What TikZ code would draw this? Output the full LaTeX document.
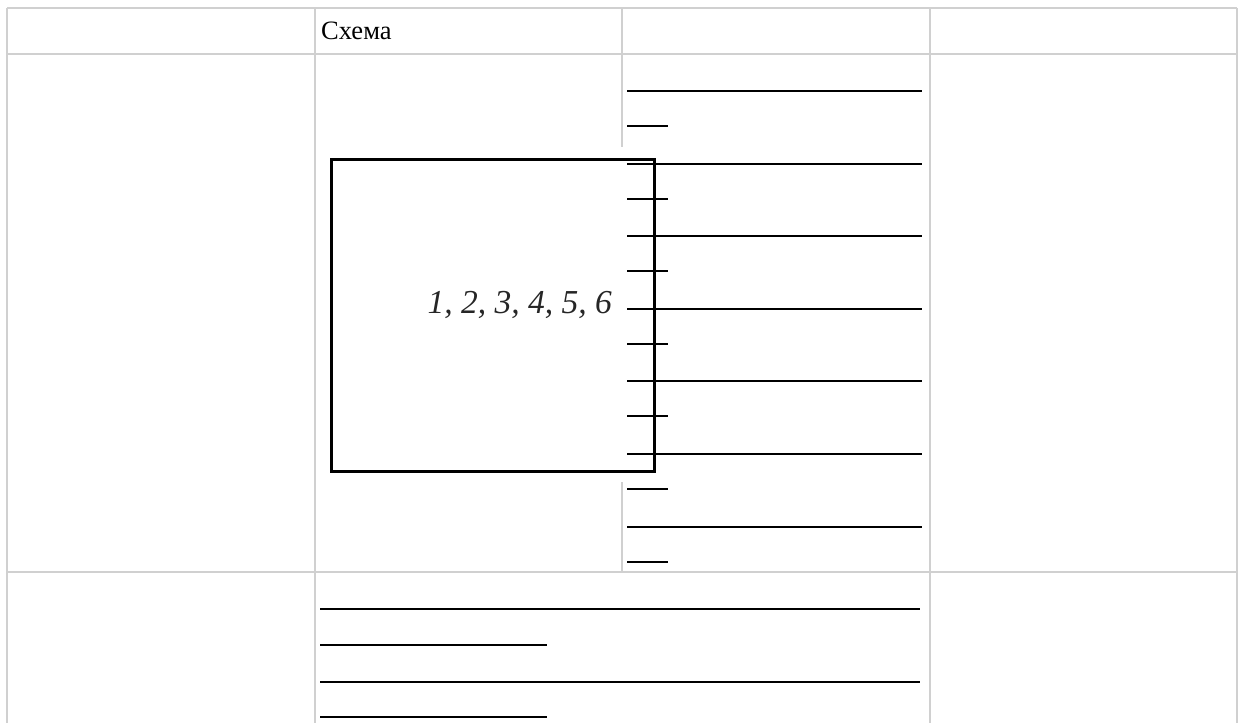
\documentclass[tikz,border=0pt]{standalone}
\usepackage{fontspec}
\setmainfont{Liberation Serif}
\definecolor{gridgray}{RGB}{208,208,208}
\begin{document}
\begin{tikzpicture}[x=1pt, y=-1pt,
    grid/.style={draw=gridgray, line width=1.5pt},
    blank/.style={draw=black, line width=1.1pt},
    frame/.style={draw=black, line width=3pt}]
    % Khung hình (pixel coordinates, y downwards)
    \useasboundingbox (0,0) rectangle (1238,723);

    % Lưới bảng
    \draw[grid] (7,8) -- (1237,8);
    \draw[grid] (7,54) -- (1237,54);
    \draw[grid] (7,572) -- (1237,572);
    \draw[grid] (7,8) -- (7,723);
    \draw[grid] (315,8) -- (315,723);
    \draw[grid] (930,8) -- (930,723);
    \draw[grid] (1237,8) -- (1237,723);
    \draw[grid] (622,8) -- (622,147);
    \draw[grid] (622,482) -- (622,572);

    % Tiêu đề
    \node[anchor=base west, inner sep=0pt, font=\fontsize{26.5}{32}\selectfont]
        (title) at (321,39) {Схема};

    % Hình vuông
    \draw[frame] (331.5,159) rectangle (654,471);
    \node[anchor=base east, inner sep=0pt, text=black!85,
        font=\fontsize{33.5}{40}\selectfont\itshape]
        (numbers) at (612,313) {1, 2, 3, 4, 5, 6};

    % Dòng trống cột 3
    \foreach \y in {91,164,236,309,381,454,527} {
        \draw[blank] (627,\y) -- (922,\y);
        \draw[blank] (627,\y+35) -- (668,\y+35);
    }

    % Dòng trống hàng dưới
    \draw[blank] (320,609) -- (920,609);
    \draw[blank] (320,645) -- (547,645);
    \draw[blank] (320,682) -- (920,682);
    \draw[blank] (320,717) -- (547,717);

\end{tikzpicture}
\end{document}
